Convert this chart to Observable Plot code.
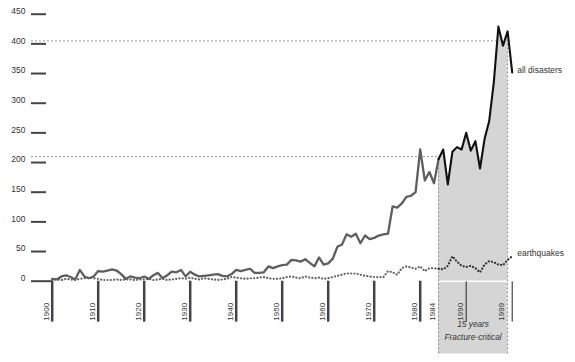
<!DOCTYPE html>
<html><head><meta charset="utf-8">
<script src="https://cdn.jsdelivr.net/npm/d3@7"></script>
<script src="https://cdn.jsdelivr.net/npm/@observablehq/plot@0.6"></script>
<style>body{margin:0;background:#fff} svg{display:block}</style>
</head><body><div id="chart"></div>
<script>
const years = d3.range(1900, 2001);
const allDisasters = [
  4,3,8,10,7,3,19,8,5,8,
  17,16,18,20,18,12,4,8,6,5,
  8,4,10,14,5,10,16,15,19,8,
  16,11,8,9,10,11,12,9,8,12,
  19,17,19,21,14,14,15,25,22,25,
  27,28,36,35,33,37,31,25,40,28,
  30,38,58,62,79,75,80,64,77,71,
  73,77,79,80,126,124,131,142,144,150,
  222,170,184,165,206,222,163,218,226,222,
  250,220,236,190,240,270,335,429,397,421,
  352
];
const earthquakes = [
  2,3,2,4,3,2,4,5,6,5,
  4,2,2,2,3,2,3,3,2,3,
  3,4,2,3,4,2,3,4,5,4,
  6,4,3,5,4,3,2,3,4,7,
  6,5,4,5,5,6,7,5,4,4,
  5,7,8,6,5,8,6,5,6,4,
  5,7,9,11,13,13,13,11,9,8,
  7,7,7,17,15,11,22,25,23,21,
  25,17,22,22,21,20,26,42,33,26,
  24,26,22,15,28,34,32,28,27,36,
  42
];
const yTicks = [0,50,100,150,200,250,300,350,400,450];
const decadeTicks = [1900,1910,1920,1930,1940,1950,1960,1970,1980];
const thinTicks = [1990,2000];
const xLabels = [1900,1910,1920,1930,1940,1950,1960,1970,1980,1984,1990,1999];
const criticalStart = 1984, criticalEnd = 1999;
const refLevels = [210, 405];
const refEnds = [1984, 1996.85];
const seriesLabels = ["all disasters", "earthquakes"];
const footer = "15 years\nFracture-critical";

const data = years.map((year, i) => ({year, all: allDisasters[i], eq: earthquakes[i]}));
const before = data.filter(d => d.year <= criticalStart);
const after = data.filter(d => d.year >= criticalStart);
const critical = data.filter(d => d.year >= criticalStart && d.year <= criticalEnd);
const edges = critical.filter(d => d.year === criticalStart || d.year === criticalEnd);
const last = data[data.length - 1];
const refLines = refLevels.map((v, i) => ({v, end: refEnds[i]}));

const chart = Plot.plot({
  width: 575, height: 362,
  marginLeft: 46, marginRight: 10, marginTop: 13.7, marginBottom: 81.3,
  x: {domain: [1900, 2000], range: [51.7, 511.7], axis: null},
  y: {domain: [0, 450], range: [280.7, 13.7], axis: null},
  style: {fontFamily: "'Liberation Sans', Arial, sans-serif", fontSize: "8.5px", color: "#333", background: "#fff"},
  marks: [
    Plot.areaY(critical, {x: "year", y1: -122.5, y2: "all", fill: "#d5d5d5"}),
    Plot.ruleY([0], {x1: criticalStart, x2: criticalEnd, stroke: "#fff", strokeWidth: 1.6}),
    Plot.ruleX(edges, {x: "year", y1: -122.5, y2: "all", stroke: "#8a8a8a", strokeWidth: 1, strokeDasharray: "2,2"}),
    Plot.ruleY(refLines, {y: "v", x1: 1895.5, x2: "end", stroke: "#9a9a9a", strokeWidth: 1, strokeDasharray: "2,2"}),
    Plot.ruleY(yTicks, {y: d => d, x1: 1895.5, x2: d => d === 0 ? 1900 : 1898.76, stroke: "#444", strokeWidth: 2}),
    Plot.axisY({ticks: yTicks, tickSize: 0, tickPadding: 21, dy: -3, fill: "#333", fontSize: 8.5, label: null}),
    Plot.ruleX(decadeTicks, {x: d => d, y1: 0, y2: -69, stroke: "#444", strokeWidth: 2.5}),
    Plot.ruleX(thinTicks, {x: d => d, y1: -1, y2: -69, stroke: "#222", strokeWidth: 1}),
    Plot.text(xLabels, {x: d => d, text: d => String(d), frameAnchor: "bottom", rotate: -90, textAnchor: "start", lineAnchor: "middle", dx: -5.7, dy: 39.5, fill: "#333", fontSize: 8}),
    Plot.lineY(before, {x: "year", y: "eq", stroke: "#666", strokeWidth: 2.2, strokeDasharray: "0.1 3.2", strokeLinecap: "round"}),
    Plot.lineY(after, {x: "year", y: "eq", stroke: "#333", strokeWidth: 2.2, strokeDasharray: "0.1 3.2", strokeLinecap: "round"}),
    Plot.lineY(before, {x: "year", y: "all", stroke: "#5e5e5e", strokeWidth: 2.3, strokeLinejoin: "round"}),
    Plot.lineY(after, {x: "year", y: "all", stroke: "#111", strokeWidth: 2.1, strokeLinejoin: "round"}),
    Plot.text([last], {x: "year", y: "all", text: () => seriesLabels[0], textAnchor: "start", dx: 5, dy: -2, fill: "#333", fontSize: 8.5}),
    Plot.text([last], {x: "year", y: "eq", text: () => seriesLabels[1], textAnchor: "start", dx: 5, dy: -3, fill: "#333", fontSize: 8.5}),
    Plot.text([footer], {x: () => (criticalStart + criticalEnd) / 2, text: d => d, frameAnchor: "bottom", dy: 58.5, lineHeight: 1.5, fontStyle: "italic", fill: "#333", fontSize: 8.3})
  ]
});
document.getElementById("chart").appendChild(chart);
</script>
</body></html>
